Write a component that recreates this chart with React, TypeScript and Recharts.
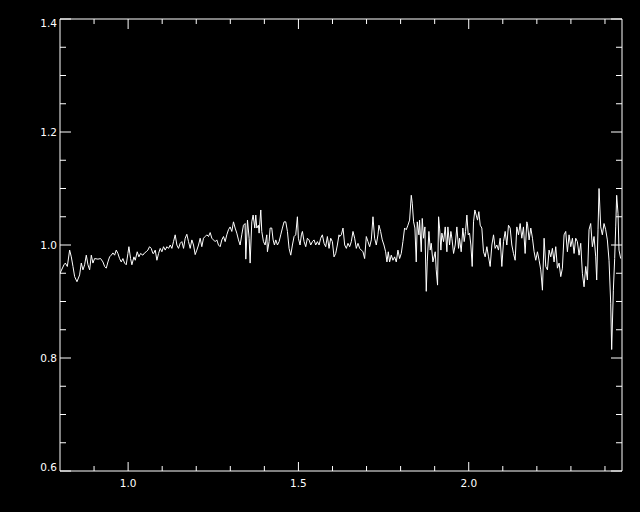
import { Line, LineChart, XAxis, YAxis } from "recharts"

// spectrum, [wavelength, normalised flux], split into chunks
const SPEC_1: [number, number][] = [
  [0.8, 0.95], [0.8117, 0.965], [0.8156, 0.968], [0.8215, 0.962], [0.8283, 0.991], [0.8332, 0.979],
  [0.8381, 0.962], [0.843, 0.944], [0.8498, 0.935], [0.8576, 0.947], [0.8625, 0.968], [0.8674, 0.956],
  [0.8723, 0.965], [0.8772, 0.982], [0.8821, 0.965], [0.887, 0.956], [0.8919, 0.982], [0.8967, 0.968],
  [0.9016, 0.976], [0.9114, 0.975], [0.9192, 0.976], [0.9261, 0.97], [0.931, 0.962], [0.9358, 0.959],
  [0.9407, 0.97], [0.9456, 0.979], [0.9505, 0.982], [0.9554, 0.986], [0.9603, 0.982], [0.9652, 0.991],
  [0.9701, 0.985], [0.9749, 0.976], [0.9798, 0.97], [0.9847, 0.976], [0.9896, 0.968], [0.9945, 0.965],
  [0.9994, 0.985], [1.0023, 0.997], [1.0072, 0.976], [1.0111, 0.965], [1.017, 0.979], [1.0209, 0.973],
  [1.0267, 0.988], [1.0316, 0.979], [1.0365, 0.985], [1.0434, 0.982], [1.0483, 0.986], [1.0531, 0.988],
  [1.058, 0.991], [1.0629, 0.997], [1.0678, 0.994], [1.0727, 0.985],
]

const SPEC_2: [number, number][] = [
  [1.0747, 0.985], [1.0796, 0.991], [1.0845, 0.973], [1.0894, 0.985], [1.0942, 0.994], [1.0991, 0.988],
  [1.104, 0.997], [1.1089, 0.991], [1.1138, 0.997], [1.1187, 0.994], [1.1236, 1.0], [1.1285, 0.994],
  [1.1333, 1.006], [1.1382, 1.018], [1.1431, 1.0], [1.148, 0.994], [1.1529, 1.003], [1.1578, 1.006],
  [1.1627, 0.994], [1.1676, 1.012], [1.1724, 1.019], [1.1773, 1.006], [1.1822, 0.994], [1.1871, 1.009],
  [1.192, 1.0], [1.1969, 0.983], [1.2018, 0.991], [1.2067, 1.0], [1.2115, 1.012], [1.2164, 0.997],
  [1.2213, 1.012], [1.2262, 1.015], [1.2311, 1.018], [1.236, 1.015], [1.2409, 1.022], [1.2458, 1.012],
  [1.2506, 1.009], [1.2555, 1.006], [1.2604, 1.009], [1.2653, 1.0], [1.2702, 0.997], [1.2751, 1.009],
  [1.28, 1.015], [1.2849, 1.006], [1.2897, 1.018], [1.2946, 1.027], [1.2995, 1.032], [1.3044, 1.024],
  [1.3093, 1.041], [1.3142, 1.03], [1.3191, 1.021], [1.324, 1.009], [1.3288, 1.0], [1.3337, 1.018],
  [1.3386, 1.035], [1.3435, 1.038],
]

const SPEC_3: [number, number][] = [
  [1.3455, 0.975], [1.3504, 1.044], [1.3553, 1.012], [1.3582, 0.968], [1.3631, 1.041], [1.367, 1.053],
  [1.3719, 1.03], [1.3748, 1.053], [1.3778, 1.03], [1.3826, 1.035], [1.3846, 1.021], [1.3895, 1.062],
  [1.3924, 1.024], [1.3973, 1.006], [1.4022, 1.0], [1.4071, 1.018], [1.409, 0.988], [1.4139, 1.006],
  [1.4169, 1.03], [1.4217, 1.03], [1.4257, 1.009], [1.4296, 1.0], [1.4335, 1.009], [1.4384, 1.0],
  [1.4433, 1.006], [1.4481, 1.018], [1.453, 1.03], [1.4579, 1.041], [1.4628, 1.041], [1.4677, 1.024],
  [1.4726, 0.994], [1.4775, 0.982], [1.4824, 1.0], [1.4872, 1.015], [1.4921, 1.018], [1.497, 1.05],
  [1.4999, 1.012], [1.5048, 1.0], [1.5087, 1.018], [1.5117, 1.024], [1.5166, 1.006], [1.5215, 0.997],
  [1.5263, 1.012], [1.5312, 1.009], [1.5361, 1.0], [1.541, 1.006], [1.5459, 1.009], [1.5508, 1.0],
  [1.5557, 1.006], [1.5606, 1.0], [1.5654, 1.012], [1.5703, 1.018], [1.5752, 1.003], [1.5801, 0.997],
  [1.585, 1.015], [1.5899, 0.994], [1.5948, 1.012], [1.5997, 1.006], [1.6045, 0.979], [1.6094, 0.985],
  [1.6143, 1.0], [1.6192, 1.018],
]

const SPEC_4: [number, number][] = [
  [1.6211, 1.015], [1.626, 1.018], [1.6309, 1.03], [1.6358, 1.0], [1.6407, 0.994], [1.6455, 1.003],
  [1.6504, 0.997], [1.6553, 1.006], [1.6602, 1.024], [1.6651, 1.012], [1.67, 0.994], [1.6749, 1.003],
  [1.6798, 0.994], [1.6846, 0.991], [1.6895, 0.988], [1.6944, 0.976], [1.6993, 1.015], [1.7042, 1.006],
  [1.7091, 0.997], [1.714, 1.009], [1.7189, 1.05], [1.7237, 1.012], [1.7286, 1.0], [1.7335, 1.018],
  [1.7364, 1.035], [1.7413, 1.024], [1.7462, 1.009], [1.7511, 1.0], [1.756, 0.988], [1.7599, 0.97],
  [1.7638, 0.988], [1.7677, 0.97], [1.7726, 0.982], [1.7775, 0.973], [1.7824, 0.979], [1.7873, 0.97],
  [1.7922, 0.991], [1.7971, 0.976], [1.8019, 0.985], [1.8068, 1.006], [1.8117, 1.03], [1.8166, 1.027],
  [1.8215, 1.035], [1.8264, 1.044], [1.8313, 1.088], [1.8342, 1.074], [1.8381, 1.041], [1.842, 1.03],
  [1.8459, 0.97], [1.8489, 1.041], [1.8537, 1.018], [1.8557, 1.044], [1.8606, 0.988], [1.8635, 1.047],
  [1.8674, 1.012], [1.8713, 1.032], [1.8753, 0.918], [1.8782, 0.97], [1.8831, 1.024], [1.887, 0.991],
  [1.8899, 1.003], [1.8948, 0.97],
]

const SPEC_5: [number, number][] = [
  [1.9017, 0.988], [1.9046, 0.956], [1.9085, 0.929], [1.9115, 1.05], [1.9144, 1.03], [1.9183, 0.991],
  [1.9212, 1.021], [1.9261, 1.006], [1.931, 1.032], [1.9359, 0.988], [1.9388, 1.032], [1.9437, 1.0],
  [1.9476, 1.024], [1.9506, 1.012], [1.9555, 0.985], [1.9603, 1.0], [1.9652, 1.032], [1.9701, 0.994],
  [1.973, 1.012], [1.9779, 0.988], [1.9828, 1.03], [1.9867, 1.006], [1.9906, 1.024], [1.9946, 1.053],
  [1.9985, 1.018], [2.0024, 1.021], [2.0063, 1.0], [2.0102, 0.962], [2.0141, 1.041], [2.018, 1.062],
  [2.0219, 1.053], [2.0258, 1.044], [2.0297, 1.059], [2.0337, 1.035], [2.0385, 1.03], [2.0434, 0.988],
  [2.0483, 0.979], [2.0532, 0.997], [2.0581, 0.979], [2.063, 0.962], [2.0679, 1.0], [2.0728, 1.018],
  [2.0776, 0.994], [2.0825, 1.0], [2.0874, 0.991], [2.0923, 1.012], [2.0972, 0.962], [2.1021, 1.006],
  [2.107, 1.024], [2.1119, 1.0], [2.1167, 1.035], [2.1216, 1.03], [2.1265, 1.0], [2.1314, 0.985],
  [2.1363, 0.973], [2.1412, 1.032], [2.1461, 1.018], [2.151, 1.038], [2.1558, 1.012], [2.1607, 1.032],
  [2.1656, 0.985], [2.1705, 1.041],
]

const SPEC_6: [number, number][] = [
  [2.1724, 1.038], [2.1773, 1.009], [2.1822, 1.03], [2.1871, 1.012], [2.192, 0.988], [2.1968, 0.973],
  [2.2017, 0.988], [2.2066, 0.973], [2.2115, 0.956], [2.2164, 0.92], [2.2213, 1.012], [2.2262, 0.962],
  [2.2311, 0.956], [2.2359, 0.991], [2.2408, 0.979], [2.2457, 0.994], [2.2506, 0.97], [2.2555, 0.997],
  [2.2604, 0.959], [2.2653, 0.968], [2.2702, 0.944], [2.275, 0.959], [2.2799, 1.018], [2.2848, 1.024],
  [2.2897, 0.988], [2.2946, 1.018], [2.2995, 0.997], [2.3044, 1.012], [2.3093, 0.985], [2.3141, 1.012],
  [2.319, 1.006], [2.3239, 0.982], [2.3288, 1.003], [2.3337, 0.95], [2.3386, 0.926], [2.3435, 0.962],
  [2.3484, 0.938], [2.3532, 1.027], [2.3581, 1.038], [2.363, 0.997], [2.3679, 1.015], [2.3728, 0.979],
  [2.3757, 0.938], [2.3796, 1.027], [2.3826, 1.1], [2.3875, 1.032], [2.3923, 1.018], [2.3972, 1.038],
  [2.4021, 1.027], [2.407, 1.009], [2.4119, 0.973], [2.4168, 0.897], [2.4197, 0.815], [2.4246, 0.92],
  [2.4285, 0.976], [2.4315, 1.032], [2.4344, 1.088], [2.4383, 1.056], [2.4412, 0.991], [2.4461, 0.976],
]

const X_TICKS = [0.9, 1.0, 1.1, 1.2, 1.3, 1.4, 1.5, 1.6, 1.7, 1.8, 1.9, 2.0, 2.1, 2.2, 2.3, 2.4]
const X_LABELS = [1.0, 1.5, 2.0]
const Y_TICKS = [0.6, 0.65, 0.7, 0.75, 0.8, 0.85, 0.9, 0.95, 1.0, 1.05, 1.1, 1.15, 1.2, 1.25, 1.3, 1.35, 1.4]
const Y_LABELS = [0.6, 0.8, 1.0, 1.2, 1.4]

const data = [...SPEC_1, ...SPEC_2, ...SPEC_3, ...SPEC_4, ...SPEC_5, ...SPEC_6].map(([w, f]) => ({ w, f }))

const FG = "#ffffff"
const FONT = { fontFamily: "DejaVu Sans", fontSize: 10.5, fill: FG }

const isMajor = (v: number, list: number[]) => list.some((m) => Math.abs(m - v) < 1e-6)

function BottomTick({ x, y, payload }: any) {
  const major = isMajor(payload.value, X_LABELS)
  return (
    <g>
      <line x1={x} y1={y} x2={x} y2={y - (major ? 9 : 5)} stroke={FG} />
      {major && (
        <text x={x} y={y + 16} textAnchor="middle" {...FONT}>
          {payload.value.toFixed(1)}
        </text>
      )}
    </g>
  )
}

function TopTick({ x, y, payload }: any) {
  const major = isMajor(payload.value, X_LABELS)
  return <line x1={x} y1={y} x2={x} y2={y + (major ? 10 : 5)} stroke={FG} />
}

function LeftTick({ x, y, payload, index }: any) {
  const major = isMajor(payload.value, Y_LABELS)
  // end labels sit inside the frame, like the original
  let dy = 3.5
  if (index === 0) dy = 0
  if (payload.value > 1.39) dy = 8
  return (
    <g>
      <line x1={x} y1={y} x2={x + (major ? 11 : 6)} y2={y} stroke={FG} />
      {major && (
        <text x={x - 3} y={y + dy} textAnchor="end" {...FONT}>
          {payload.value.toFixed(1)}
        </text>
      )}
    </g>
  )
}

function RightTick({ x, y, payload }: any) {
  const major = isMajor(payload.value, Y_LABELS)
  return <line x1={x} y1={y} x2={x - (major ? 11 : 6)} y2={y} stroke={FG} />
}

export default function App() {
  return (
    <div style={{ position: "fixed", left: 0, top: 0, width: 640, height: 512, background: "#000" }}>
      <LineChart width={640} height={512} data={data} margin={{ top: 19, right: 18, bottom: 0, left: 0 }}>
        <XAxis
          dataKey="w"
          type="number"
          domain={[0.8, 2.45]}
          ticks={X_TICKS}
          interval={0}
          height={41}
          tickSize={0}
          tickMargin={0}
          axisLine={{ stroke: FG }}
          tick={<BottomTick />}
          allowDataOverflow
        />
        <XAxis
          xAxisId="top"
          orientation="top"
          mirror
          dataKey="w"
          type="number"
          domain={[0.8, 2.45]}
          ticks={X_TICKS}
          interval={0}
          tickSize={0}
          tickMargin={0}
          axisLine={{ stroke: FG }}
          tick={<TopTick />}
          allowDataOverflow
        />
        <YAxis
          type="number"
          domain={[0.6, 1.4]}
          ticks={Y_TICKS}
          interval={0}
          width={60}
          tickSize={0}
          tickMargin={0}
          axisLine={{ stroke: FG }}
          tick={<LeftTick />}
          allowDataOverflow
        />
        <YAxis
          yAxisId="right"
          orientation="right"
          mirror
          type="number"
          domain={[0.6, 1.4]}
          ticks={Y_TICKS}
          interval={0}
          tickSize={0}
          tickMargin={0}
          axisLine={{ stroke: FG }}
          tick={<RightTick />}
          allowDataOverflow
        />
        <Line
          dataKey="f"
          type="linear"
          stroke={FG}
          strokeWidth={1}
          dot={false}
          isAnimationActive={false}
        />
      </LineChart>
    </div>
  )
}
